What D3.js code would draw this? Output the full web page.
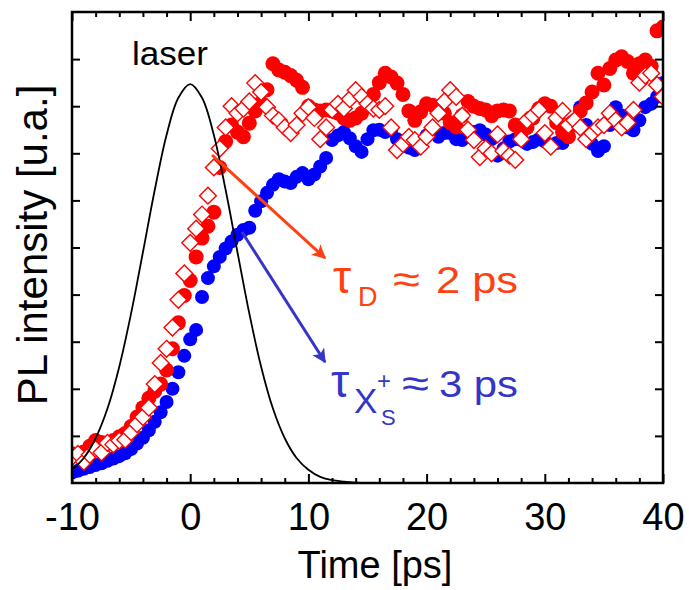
<!DOCTYPE html>
<html><head><meta charset="utf-8">
<script src="https://cdn.jsdelivr.net/npm/d3@7"></script>
<style>html,body{margin:0;padding:0;background:#fff;} svg{display:block;font-family:"Liberation Sans",Arial,Helvetica,sans-serif;}</style>
</head><body><svg id="c" width="689" height="590"></svg>
<script>
const time = [-10,-9.5,-9,-8.5,-8,-7.5,-7,-6.5,-6,-5.5,-5,-4.5,-4,-3.5,-3,-2.5,-2,-1.5,-1,-0.5,
  0,0.5,1,1.5,2,2.5,3,3.5,4,4.5,5,5.5,6,6.5,7,7.5,8,8.5,9,9.5,
  10,10.5,11,11.5,12,12.5,13,13.5,14,14.5,15,15.5,16,16.5,17,17.5,18,18.5,19,19.5,
  20,20.5,21,21.5,22,22.5,23,23.5,24,24.5,25,25.5,26,26.5,27,27.5,28,28.5,29,29.5,
  30,30.5,31,31.5,32,32.5,33,33.5,34,34.5,35,35.5,36,36.5,37,37.5,38,38.5,39,39.5,40];

const blueXs = [0.22,0.26,0.30,0.34,0.38,0.42,0.47,0.52,0.57,0.63,0.72,0.84,0.96,1.12,1.30,1.50,1.72,2.00,2.35,2.70,
  3.05,3.25,3.95,4.35,4.60,4.80,4.98,5.13,5.27,5.37,5.42,5.78,5.98,6.16,6.33,6.45,6.40,6.37,6.50,6.58,
  6.45,6.55,6.72,6.90,7.28,7.38,7.45,7.32,7.15,7.03,7.30,7.49,7.50,7.45,7.49,7.30,7.25,7.12,7.07,7.22,
  7.38,7.43,7.35,7.43,7.43,7.30,7.28,7.35,7.45,7.49,7.40,7.30,6.95,7.10,7.25,7.30,7.28,7.20,7.24,7.30,
  7.25,7.18,7.22,7.22,7.35,7.70,7.98,7.60,7.20,7.05,7.15,7.60,7.98,7.80,7.55,7.49,7.70,7.98,8.05,8.20,8.49];

const redD = [0.62,0.58,0.66,0.78,0.90,0.86,0.84,0.90,0.98,1.05,1.20,1.40,1.60,1.80,1.95,2.10,2.40,2.85,3.40,3.98,
  4.30,4.80,5.20,5.45,5.75,6.70,7.25,7.60,7.45,7.35,7.64,7.90,8.07,8.35,8.90,8.77,8.72,8.65,8.55,8.40,
  8.00,7.92,7.90,7.92,7.90,7.85,7.75,7.70,7.75,7.85,8.00,8.25,8.50,8.70,8.62,8.49,8.25,7.90,7.70,7.88,
  8.05,8.02,7.98,7.85,7.65,7.56,7.80,8.10,8.00,7.95,7.92,7.80,7.90,7.92,7.90,7.60,7.43,7.55,7.75,7.95,
  8.05,8.00,7.65,7.45,7.35,7.60,7.90,8.07,8.30,8.70,8.45,8.80,8.98,9.05,8.95,8.70,8.90,8.98,8.85,9.60,9.68];

const redOpen = [0.55,0.62,0.45,0.60,0.72,0.65,0.85,0.82,0.90,0.92,1.08,1.25,1.40,1.60,2.10,2.55,2.85,3.30,3.89,4.45,
  5.10,5.40,5.70,6.10,6.70,7.10,7.55,8.00,7.85,7.95,8.10,8.49,8.30,7.98,7.80,7.70,7.55,7.43,7.60,7.85,
  7.98,7.75,7.30,7.55,7.92,8.05,7.95,8.15,8.34,8.20,8.05,7.95,7.92,8.00,7.55,7.07,7.20,7.35,7.28,7.14,
  7.35,7.55,7.85,8.10,8.34,8.20,7.80,7.50,7.28,6.92,7.10,7.00,7.40,7.05,6.95,6.86,7.30,7.70,7.80,7.92,
  7.43,7.14,7.75,7.90,7.60,7.70,7.55,7.30,7.43,7.55,7.60,7.85,7.70,7.55,7.65,7.92,8.50,8.65,8.70,8.45,8.20];

const laserTime = [-10,-9,-8,-7,-6,-5,-4,-3,-2,-1,0,1,2,3,4,5,6,7,8,9,10,11,12,13,14,15,16,17,18,19,20];
const laserPL = [0.28,0.53,0.95,1.58,2.47,3.60,4.90,6.22,7.39,8.18,8.47,8.18,7.39,6.22,4.90,3.60,2.47,1.58,0.95,0.53,0.28,0.13,0.06,0.03,0.01,0,0,0,0,0,0];

const xTicks = [-10,0,10,20,30,40];
const xTickLabels = ["-10","0","10","20","30","40"];
const xMinorTicks = [-8,-6,-4,-2,2,4,6,8,12,14,16,18,22,24,26,28,32,34,36,38];
const yTicks = [1,2,3,4,5,6,7,8,9];

const svg = d3.select("#c");
const L = 72, R = 663, T = 12, B = 483;
const x = d3.scaleLinear().domain([-10,40]).range([L,R]);
const y = d3.scaleLinear().domain([0,10]).range([B,T]);

const defs = svg.append("defs");
defs.append("clipPath").attr("id","plot").append("rect")
  .attr("x",L).attr("y",T).attr("width",R-L).attr("height",B-T);
function marker(id,color){
  defs.append("marker").attr("id",id).attr("viewBox","0 0 10 10")
    .attr("refX",9).attr("refY",5).attr("markerUnits","userSpaceOnUse")
    .attr("markerWidth",16).attr("markerHeight",14).attr("orient","auto")
    .append("path").attr("d","M0,0 L10,5 L0,10 L2.5,5 Z").attr("fill",color);
}
const orange = "#ff4010", blueArrow = "#3535c8";
marker("arrO",orange); marker("arrB",blueArrow);

const plot = svg.append("g").attr("clip-path","url(#plot)");
const idx = d3.range(time.length);

plot.append("g").selectAll("circle").data(idx).join("circle")
  .attr("cx",i=>x(time[i])).attr("cy",i=>y(blueXs[i])).attr("r",7).attr("fill","#0000ff");
plot.append("g").selectAll("circle").data(idx).join("circle")
  .attr("cx",i=>x(time[i])).attr("cy",i=>y(redD[i])).attr("r",7.5).attr("fill","#ff0000");
const dsz = 8.4;
plot.append("g").selectAll("path").data(idx).join("path")
  .attr("transform",i=>`translate(${x(time[i])},${y(redOpen[i])})`)
  .attr("d",`M0,${-dsz}L${dsz},0L0,${dsz}L${-dsz},0Z`)
  .attr("fill","#fff").attr("stroke","#ff0000").attr("stroke-width",1.4);

const line = d3.line().x(i=>x(laserTime[i])).y(i=>y(laserPL[i])).curve(d3.curveCatmullRom);
plot.append("path").datum(d3.range(laserTime.length)).attr("d",line)
  .attr("fill","none").attr("stroke","#000").attr("stroke-width",1.8);

// axes
function styleAxis(g){ g.select(".domain").remove(); g.selectAll(".tick line").attr("stroke","#000").attr("stroke-width",2); }
svg.append("g").attr("transform",`translate(0,${B})`)
  .call(d3.axisBottom(x).tickValues(xTicks).tickSize(-9).tickPadding(20).tickFormat((d,i)=>xTickLabels[i]))
  .call(styleAxis)
  .call(g=>g.selectAll("text").attr("font-size",38).attr("fill","#000")
    .attr("font-family",'"Liberation Sans",Arial,sans-serif'));
svg.append("g").attr("transform",`translate(0,${B})`)
  .call(d3.axisBottom(x).tickValues(xMinorTicks).tickSize(-5).tickFormat(""))
  .call(styleAxis);
svg.append("g").attr("transform",`translate(0,${T})`)
  .call(d3.axisTop(x).tickValues(xTicks).tickSize(-9).tickFormat(""))
  .call(styleAxis);
svg.append("g").attr("transform",`translate(0,${T})`)
  .call(d3.axisTop(x).tickValues(xMinorTicks).tickSize(-5).tickFormat(""))
  .call(styleAxis);
svg.append("g").attr("transform",`translate(${L},0)`)
  .call(d3.axisLeft(y).tickValues(yTicks).tickSize(-8).tickFormat(""))
  .call(styleAxis);
svg.append("g").attr("transform",`translate(${R},0)`)
  .call(d3.axisRight(y).tickValues(yTicks).tickSize(-8).tickFormat(""))
  .call(styleAxis);

svg.append("rect").attr("x",L).attr("y",T).attr("width",R-L).attr("height",B-T)
  .attr("fill","none").attr("stroke","#000").attr("stroke-width",2.5);

// titles
svg.append("text").attr("x",375).attr("y",578).attr("text-anchor","middle")
  .attr("font-size",38).attr("fill","#000").text("Time [ps]");
svg.append("text").attr("transform","translate(47,245) rotate(-90)").attr("text-anchor","middle")
  .attr("font-size",42).attr("fill","#000").text("PL intensity [u.a.]");
svg.append("text").attr("x",132).attr("y",65).attr("font-size",34)
  .attr("textLength",76).attr("lengthAdjust","spacingAndGlyphs").attr("fill","#000").text("laser");

// arrows
svg.append("line").attr("x1",212).attr("y1",155).attr("x2",325).attr("y2",258)
  .attr("stroke",orange).attr("stroke-width",3).attr("marker-end","url(#arrO)");
svg.append("line").attr("x1",242).attr("y1",232).attr("x2",325).attr("y2",362)
  .attr("stroke",blueArrow).attr("stroke-width",3).attr("marker-end","url(#arrB)");

// annotations
const aO = svg.append("g").attr("fill",orange);
aO.append("text").attr("x",333).attr("y",293).attr("font-size",46).text("τ");
aO.append("text").attr("x",358).attr("y",306).attr("font-size",27).text("D");
aO.append("text").attr("x",393).attr("y",293).attr("font-size",40)
  .attr("textLength",27).attr("lengthAdjust","spacingAndGlyphs").text("≈");
aO.append("text").attr("x",436).attr("y",293).attr("font-size",36)
  .attr("textLength",82).attr("lengthAdjust","spacingAndGlyphs").text("2 ps");

const aB = svg.append("g").attr("fill",blueArrow);
aB.append("text").attr("x",331).attr("y",397).attr("font-size",46).text("τ");
aB.append("text").attr("x",354).attr("y",413).attr("font-size",35).text("X");
aB.append("text").attr("x",377).attr("y",389).attr("font-size",24).text("+");
aB.append("text").attr("x",381).attr("y",425).attr("font-size",22).text("S");
aB.append("text").attr("x",402).attr("y",397).attr("font-size",40)
  .attr("textLength",27).attr("lengthAdjust","spacingAndGlyphs").text("≈");
aB.append("text").attr("x",439).attr("y",397).attr("font-size",36)
  .attr("textLength",79).attr("lengthAdjust","spacingAndGlyphs").text("3 ps");
</script></body></html>
